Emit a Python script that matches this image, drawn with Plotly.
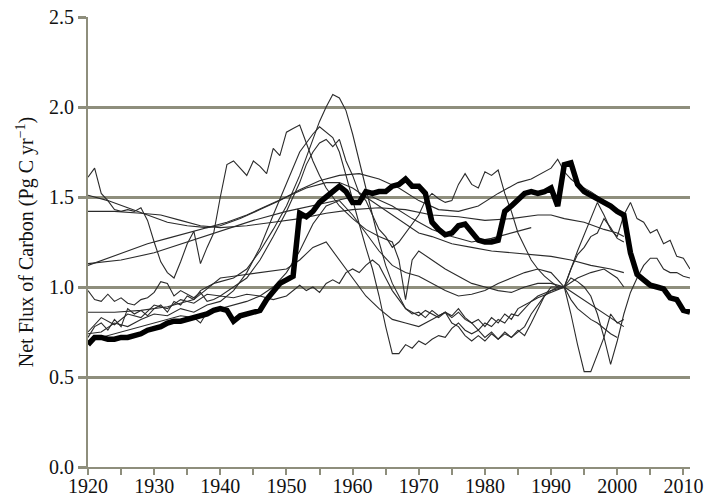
import plotly.graph_objects as go

# Annual net carbon flux estimates (Pg C / yr)
best_years = list(range(1920, 2012))
best_flux = [0.68, 0.72, 0.72, 0.71, 0.71, 0.72, 0.72, 0.73, 0.74, 0.76,
             0.77, 0.78, 0.80, 0.81, 0.81, 0.82, 0.83, 0.84, 0.85, 0.87,
             0.88, 0.87, 0.81, 0.84, 0.85, 0.86, 0.87, 0.93, 0.97, 1.02,
             1.04, 1.06, 1.41, 1.39, 1.42, 1.47, 1.50, 1.53, 1.56, 1.53,
             1.47, 1.47, 1.53, 1.52, 1.53, 1.53, 1.56, 1.57, 1.60, 1.56,
             1.56, 1.52, 1.36, 1.32, 1.29, 1.30, 1.34, 1.35, 1.31, 1.26,
             1.25, 1.25, 1.26, 1.42, 1.45, 1.49, 1.52, 1.53, 1.52, 1.53,
             1.55, 1.45, 1.68, 1.69, 1.57, 1.53, 1.51, 1.49, 1.47, 1.45,
             1.42, 1.40, 1.19, 1.07, 1.04, 1.01, 1.00, 0.99, 0.94, 0.93,
             0.87, 0.86]

# Individual model estimates
m1_years = list(range(1920, 1959)) + [1960, 1962, 1964, 1966, 1967, 1968, 1969, 1970, 1972,
                                      1974, 1976, 1978, 1980, 1982, 1984, 1986, 1988, 1990,
                                      1992, 1993, 1994, 1995, 1996, 1997, 1998, 1999, 2000, 2001]
m1_flux = [1.61, 1.66, 1.52, 1.48, 1.43, 1.42, 1.43, 1.42, 1.44, 1.37,
           1.25, 1.14, 1.08, 1.05, 1.14, 1.24, 1.31, 1.13, 1.22, 1.30,
           1.50, 1.68, 1.70, 1.66, 1.62, 1.70, 1.67, 1.63, 1.77, 1.73,
           1.86, 1.88, 1.90, 1.80, 1.70, 1.62, 1.55, 1.50, 1.45,
           1.38, 1.32, 1.28, 1.25, 1.15, 0.93, 1.15, 1.20, 1.15,
           1.10, 1.06, 1.02, 1.00, 0.98, 0.97, 1.00, 1.02, 1.02,
           1.00, 0.85, 0.68, 0.53, 0.53, 0.62, 0.72, 0.85, 0.80, 0.82]

m2_years = [1920, 1921, 1922, 1923, 1924, 1925, 1926, 1927, 1928, 1929, 1930, 1931, 1932,
            1933, 1934, 1935, 1936, 1937, 1938, 1939, 1940, 1942, 1944, 1946, 1948, 1950,
            1952, 1954, 1955, 1956, 1957, 1958, 1959, 1960, 1961, 1962, 1963, 1964, 1965,
            1966, 1967, 1968, 1969, 1970, 1971, 1972, 1973, 1974, 1975, 1976, 1977, 1978,
            1979, 1980, 1981, 1982, 1983, 1984, 1985, 1986, 1987, 1988, 1990, 1992, 1994,
            1996, 1997, 1998, 1999, 2000, 2001, 2002, 2003, 2004, 2005, 2006, 2007, 2008,
            2009, 2010, 2011]
m2_flux = [0.72, 0.78, 0.80, 0.76, 0.82, 0.78, 0.88, 0.85, 0.87, 0.84, 0.88, 0.90, 0.86,
           0.92, 0.90, 0.95, 0.93, 0.98, 1.00, 1.02, 1.03, 1.05, 1.10, 1.20, 1.32, 1.45,
           1.62, 1.82, 1.92, 2.00, 2.07, 2.05, 1.98, 1.85, 1.70, 1.55, 1.40, 1.25, 1.12,
           1.02, 0.95, 0.88, 0.85, 0.86, 0.83, 0.87, 0.84, 0.86, 0.83, 0.86, 0.82, 0.80,
           0.76, 0.80, 0.78, 0.82, 0.80, 0.85, 0.84, 0.88, 0.92, 0.94, 0.97, 1.00, 1.20,
           1.38, 1.47, 1.40, 1.32, 1.28, 1.40, 1.47, 1.38, 1.36, 1.30, 1.32, 1.24, 1.26,
           1.17, 1.16, 1.10]

m3_years = [1920, 1922, 1924, 1926, 1928, 1930, 1932, 1934, 1936, 1938, 1940, 1942, 1944,
            1946, 1948, 1950, 1952, 1954, 1955, 1957, 1958, 1959, 1960, 1961, 1962, 1963,
            1964, 1965, 1966, 1967, 1968, 1969, 1970, 1971, 1972, 1973, 1974, 1975, 1976,
            1977, 1978, 1979, 1980, 1981, 1982, 1983, 1984, 1985, 1986, 1987, 1988, 1989,
            1990, 1991, 1992, 1993, 1994, 1995, 1996, 1997, 1998, 1999, 2000]
m3_flux = [0.74, 0.75, 0.80, 0.78, 0.82, 0.85, 0.84, 0.88, 0.86, 0.90, 0.92, 0.98, 1.08,
           1.22, 1.40, 1.58, 1.75, 1.85, 1.89, 1.83, 1.75, 1.62, 1.48, 1.35, 1.22, 1.10,
           0.95, 0.78, 0.63, 0.63, 0.68, 0.66, 0.70, 0.68, 0.71, 0.73, 0.72, 0.77, 0.80,
           0.76, 0.74, 0.76, 0.72, 0.75, 0.71, 0.74, 0.72, 0.75, 0.78, 0.85, 0.90, 0.95,
           0.98, 1.00, 1.00, 0.93, 0.88, 0.85, 0.82, 0.80, 0.77, 0.74, 0.72]

m4_years = [1920, 1922, 1924, 1926, 1928, 1930, 1932, 1934, 1936, 1938, 1940, 1942, 1944,
            1946, 1948, 1950, 1951, 1952, 1953, 1954, 1955, 1956, 1957, 1958, 1959, 1960,
            1961, 1962, 1963, 1964, 1965, 1966, 1967, 1968, 1969, 1970, 1971, 1972, 1973,
            1974, 1975, 1976, 1977, 1978, 1979, 1980, 1981, 1982, 1983, 1984, 1985, 1986,
            1987, 1988, 1989, 1990, 1991, 1992, 1993, 1994, 1995, 1996, 1997, 1998, 1999,
            2000, 2001]
m4_flux = [0.75, 0.83, 0.79, 0.85, 0.83, 0.90, 0.88, 0.93, 0.91, 0.96, 0.95, 1.00, 1.05,
           1.15, 1.28, 1.42, 1.50, 1.58, 1.68, 1.75, 1.80, 1.82, 1.78, 1.82, 1.70, 1.62,
           1.52, 1.48, 1.40, 1.32, 1.28, 1.22, 1.25, 1.30, 1.35, 1.40, 1.48, 1.52, 1.49,
           1.47, 1.48, 1.57, 1.63, 1.57, 1.55, 1.64, 1.62, 1.65, 1.52, 1.42, 1.30, 1.22,
           1.15, 1.10, 1.06, 1.03, 1.00, 1.00, 1.10, 1.18, 1.22, 1.28, 1.30, 1.38, 1.33,
           1.27, 1.25]

m5_years = [1920, 1923, 1926, 1929, 1932, 1935, 1938, 1940, 1943, 1946, 1949, 1952, 1955,
            1958, 1961, 1964, 1967, 1970, 1973, 1976, 1979, 1982, 1985, 1987, 1989, 1990,
            1991, 1992, 1993, 1994, 1996, 1998, 2000, 2001]
m5_flux = [1.51, 1.48, 1.44, 1.40, 1.36, 1.34, 1.33, 1.34, 1.38, 1.43, 1.48, 1.54, 1.59,
           1.62, 1.63, 1.60, 1.55, 1.48, 1.43, 1.42, 1.45, 1.52, 1.58, 1.60, 1.64, 1.66,
           1.71, 1.64, 1.60, 1.57, 1.53, 1.48, 1.42, 1.38]

m6_years = [1920, 1924, 1928, 1931, 1934, 1937, 1940, 1944, 1948, 1952, 1956, 1960, 1964,
            1968, 1972, 1976, 1980, 1984, 1988, 1990, 1992, 1995, 1998, 2000, 2001]
m6_flux = [1.42, 1.42, 1.41, 1.40, 1.37, 1.34, 1.33, 1.34, 1.36, 1.38, 1.41, 1.43, 1.44,
           1.43, 1.40, 1.39, 1.37, 1.38, 1.40, 1.40, 1.38, 1.36, 1.32, 1.30, 1.28]

m7_years = [1920, 1923, 1926, 1929, 1932, 1935, 1938, 1941, 1944, 1947, 1950, 1953, 1956,
            1958, 1960, 1962, 1964, 1966, 1968, 1970, 1972, 1975, 1978, 1981, 1984, 1987,
            1990, 1993, 1996, 1999, 2001]
m7_flux = [1.12, 1.16, 1.20, 1.24, 1.27, 1.30, 1.33, 1.36, 1.40, 1.45, 1.50, 1.55, 1.58,
           1.58, 1.55, 1.50, 1.45, 1.40, 1.35, 1.30, 1.28, 1.24, 1.22, 1.20, 1.19, 1.18,
           1.17, 1.15, 1.12, 1.10, 1.08]

m8_years = [1920, 1925, 1930, 1935, 1940, 1945, 1950, 1955, 1960, 1963, 1966, 1969, 1972,
            1975, 1978, 1981, 1984, 1987]
m8_flux = [1.13, 1.15, 1.19, 1.25, 1.31, 1.37, 1.42, 1.46, 1.50, 1.50, 1.45, 1.38, 1.32,
           1.28, 1.25, 1.27, 1.30, 1.33]

m9_years = list(range(1920, 1941)) + [1942, 1944, 1946, 1948] + list(range(1950, 1989)) + [
    1990, 1992, 1994, 1996, 1998, 2000, 2001]
m9_flux = [0.98, 0.93, 0.92, 0.96, 0.92, 0.94, 0.91, 0.90, 0.93, 0.94, 0.97, 1.03, 1.02,
           0.95, 0.98, 0.96, 0.94, 0.97, 0.92, 0.93, 0.95, 0.94, 0.96, 0.95, 0.93,
           0.95, 0.98, 1.01, 0.98, 1.00, 0.97, 1.02, 1.04, 1.02, 1.08, 1.10, 1.08, 1.12,
           1.15, 1.12, 1.05, 0.98, 0.93, 0.88, 0.86, 0.84, 0.87, 0.85, 0.83, 0.86, 0.84,
           0.88, 0.83, 0.80, 0.82, 0.78, 0.83, 0.80, 0.85, 0.82, 0.88, 0.90, 0.92, 0.95,
           0.98, 1.00, 1.05, 1.08, 1.10, 1.05, 1.00]

m10_years = [1920, 1924, 1928, 1932, 1936, 1940, 1942, 1944, 1946, 1948, 1950, 1952, 1954,
             1956, 1958, 1960, 1962, 1964, 1966, 1968, 1970, 1972, 1974, 1975, 1976, 1977,
             1978, 1979, 1980, 1981, 1982, 1983, 1984, 1985, 1986, 1987, 1988, 1989, 1990,
             1991, 1992, 1993, 1994, 1995, 1996, 1997, 1998, 1999, 2000, 2001, 2002, 2003,
             2004, 2005, 2006, 2007, 2008, 2009, 2010, 2011]
m10_flux = [0.86, 0.86, 0.87, 0.89, 0.93, 1.05, 1.06, 1.07, 1.08, 1.09, 1.10, 1.15, 1.22,
            1.25, 1.15, 1.05, 0.95, 0.88, 0.82, 0.80, 0.78, 0.82, 0.86, 0.80, 0.78, 0.73,
            0.70, 0.73, 0.70, 0.74, 0.71, 0.75, 0.72, 0.76, 0.73, 0.80, 0.88, 0.95, 1.00,
            1.00, 1.00, 1.05, 1.03, 1.00, 0.95, 0.85, 0.72, 0.57, 0.70, 0.85, 0.97, 1.05,
            1.12, 1.16, 1.16, 1.10, 1.08, 1.08, 1.06, 1.05]

m11_years = [1920, 1922, 1924, 1926, 1928, 1930, 1932, 1934, 1936, 1937, 1938, 1940, 1942,
             1944, 1946, 1948, 1950, 1952, 1954, 1956, 1958, 1960, 1962, 1964, 1966, 1968,
             1970, 1972, 1974, 1976, 1978, 1980, 1982, 1984, 1986, 1988, 1990, 1992, 1994,
             1996, 1998, 2000, 2001]
m11_flux = [0.70, 0.72, 0.74, 0.76, 0.78, 0.80, 0.82, 0.84, 0.83, 0.80, 0.86, 0.88, 0.90,
            0.92, 0.95, 1.00, 1.08, 1.20, 1.35, 1.45, 1.48, 1.40, 1.30, 1.20, 1.12, 1.08,
            1.06, 1.02, 0.98, 0.95, 0.96, 0.98, 1.02, 1.05, 1.08, 1.10, 1.08, 1.00, 0.95,
            0.90, 0.85, 0.80, 0.78]

models = [
    (m1_years, m1_flux), (m2_years, m2_flux), (m3_years, m3_flux), (m4_years, m4_flux),
    (m5_years, m5_flux), (m6_years, m6_flux), (m7_years, m7_flux), (m8_years, m8_flux),
    (m9_years, m9_flux), (m10_years, m10_flux), (m11_years, m11_flux),
]

x_tick_years = list(range(1920, 2011, 10))
y_tick_values = [0.0, 0.5, 1.0, 1.5, 2.0, 2.5]

GRID = "#8e8e7c"
SERIF = "Liberation Serif, Times New Roman, serif"

fig = go.Figure()
for yrs, vals in models:
    fig.add_trace(go.Scatter(x=yrs, y=vals, mode="lines",
                             line=dict(color="#2b2b2b", width=1.1),
                             hoverinfo="skip", showlegend=False))
fig.add_trace(go.Scatter(x=best_years, y=best_flux, mode="lines",
                         line=dict(color="#000000", width=5.5),
                         showlegend=False))

fig.update_layout(
    width=706, height=496,
    margin=dict(l=88, r=16, t=17, b=29),
    paper_bgcolor="white", plot_bgcolor="white",
    font=dict(family=SERIF, size=20, color="#111111"),
)
fig.update_xaxes(
    range=[1920, 2011], tickvals=x_tick_years, automargin=False,
    showgrid=False, zeroline=False,
    showline=True, linecolor=GRID, linewidth=2,
    ticks="outside", ticklen=6, tickwidth=2, tickcolor=GRID,
    minor=dict(dtick=5, tick0=1920, ticks="outside", ticklen=6, tickwidth=2,
               tickcolor=GRID, showgrid=False),
    tickfont=dict(size=20), ticklabelstandoff=-6,
)
fig.update_yaxes(
    range=[0, 2.5], tickvals=y_tick_values, tickformat=".1f", automargin=False,
    showgrid=True, gridcolor=GRID, gridwidth=2.5, zeroline=False,
    showline=True, linecolor=GRID, linewidth=2,
    ticks="outside", ticklen=8, tickwidth=2.5, tickcolor=GRID,
    tickfont=dict(size=20),
    title=dict(text="Net Flux of Carbon (Pg C yr<sup>\u22121</sup>)",
               font=dict(size=20), standoff=10),
)

fig.write_html("out.html")
